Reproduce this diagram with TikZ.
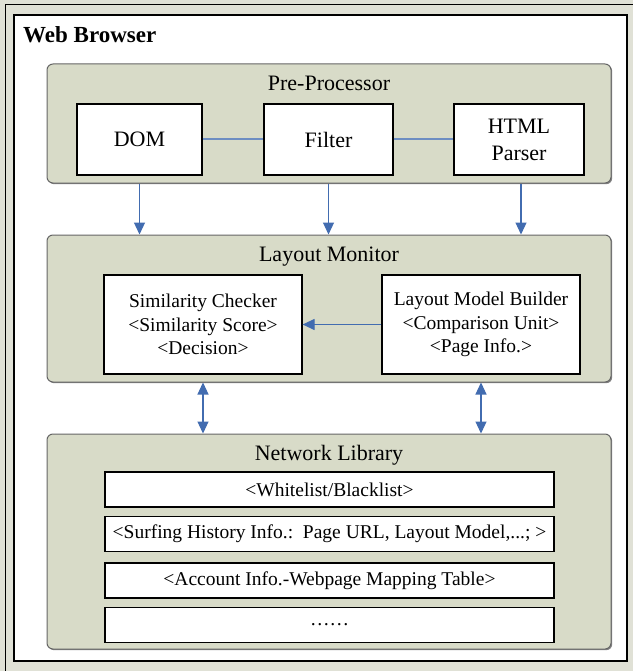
\documentclass[tikz,border=0pt]{standalone}
\usepackage{fontspec}
\setmainfont{Liberation Serif}
\usetikzlibrary{arrows.meta,positioning,shadows}
\definecolor{framegray}{RGB}{224,225,214}
\definecolor{panelgray}{RGB}{216,219,200}
\definecolor{arrowblue}{RGB}{66,108,176}
\definecolor{lineblue}{RGB}{110,142,194}
\tikzset{
  panel/.style={draw=black!60,line width=1pt,rounded corners=6pt,fill=panelgray,minimum width=564pt,
    drop shadow={shadow xshift=1.2pt,shadow yshift=-1.2pt,fill=black!60,opacity=.8}},
  paneltitle/.style={inner sep=0,font=\fontsize{22}{26}\selectfont},
  unit/.style={draw,line width=1.2pt,fill=white,inner sep=0,align=center,font=\fontsize{22}{27}\selectfont},
  part/.style={draw,line width=1.2pt,fill=white,inner sep=0,align=center,font=\fontsize{19.5}{23.5}\selectfont},
  entry/.style={draw,line width=1.2pt,fill=white,inner sep=0,minimum width=449pt,minimum height=35pt,font=\fontsize{19.5}{23.5}\selectfont},
  link/.style={lineblue,line width=2pt},
  flow/.style={-{Triangle[length=12pt,width=11pt]},arrowblue,line width=1.2pt},
  both/.style={{Triangle[length=12pt,width=11pt]}-{Triangle[length=12pt,width=11pt]},arrowblue,line width=1.2pt}
}

\begin{document}
\begin{tikzpicture}[x=1pt,y=-1pt]
  \useasboundingbox (0,0) rectangle (633,671);
  % browser frame
  \fill[framegray] (0,0) rectangle (633,671);
  \draw[line width=1pt] (5,671) -- (5,5) -- (633,5);
  \draw[line width=1.3pt,fill=white] (14,15) rectangle (627,661);
  \node[anchor=base west,inner sep=0,font=\fontsize{23}{27}\bfseries\selectfont] (browser) at (23,43) {Web Browser};

  % pre-processor
  \node[panel,minimum height=119pt] (pre) at (329,123.5) {};
  \node[paneltitle,yshift=-20pt] (pretitle) at (pre.north) {Pre-Processor};
  \node[unit,minimum width=125pt,minimum height=71pt] (dom) at (139.5,139.5) {DOM};
  \node[unit,minimum width=129pt,minimum height=71pt] (filter) at (328.5,139.5) {Filter};
  \node[unit,minimum width=130pt,minimum height=71pt] (html) at (519,139.5) {HTML\\Parser};
  \draw[link] (dom) -- (filter);
  \draw[link] (filter) -- (html);

  % layout monitor
  \node[panel,minimum height=147pt] (layout) at (329,308.5) {};
  \node[paneltitle,yshift=-22pt] (layouttitle) at (layout.north) {Layout Monitor};
  \node[part,minimum width=198pt,minimum height=99pt] (checker) at (203,324.5) {Similarity Checker\\<Similarity Score>\\<Decision>};
  \node[part,minimum width=198pt,minimum height=99pt] (builder) at (481,324.5) {Layout Model Builder\\<Comparison Unit>\\<Page Info.>};
  \draw[flow] (builder) -- (checker);

  % network library
  \node[panel,minimum height=215pt] (net) at (329,541.5) {};
  \node[paneltitle,yshift=-22pt] (nettitle) at (net.north) {Network Library};
  \node[entry] (lists) at (329.5,489.5) {<Whitelist/Blacklist>};
  \node[entry] (history) at (329.5,534) {<Surfing History Info.:~~Page URL, Layout Model,...; >};
  \node[entry] (account) at (329.5,580.5) {<Account Info.-Webpage Mapping Table>};
  \node[entry] (more) at (329.5,625) {……};

  % connections between panels
  \draw[flow] (dom |- pre.south) -- (dom |- layout.north);
  \draw[flow] (filter |- pre.south) -- (filter |- layout.north);
  \draw[flow] ([xshift=2pt]html |- pre.south) -- ([xshift=2pt]html |- layout.north);
  \draw[both] (checker |- layout.south) -- (checker |- net.north);
  \draw[both] (builder |- layout.south) -- (builder |- net.north);
\end{tikzpicture}
\end{document}
